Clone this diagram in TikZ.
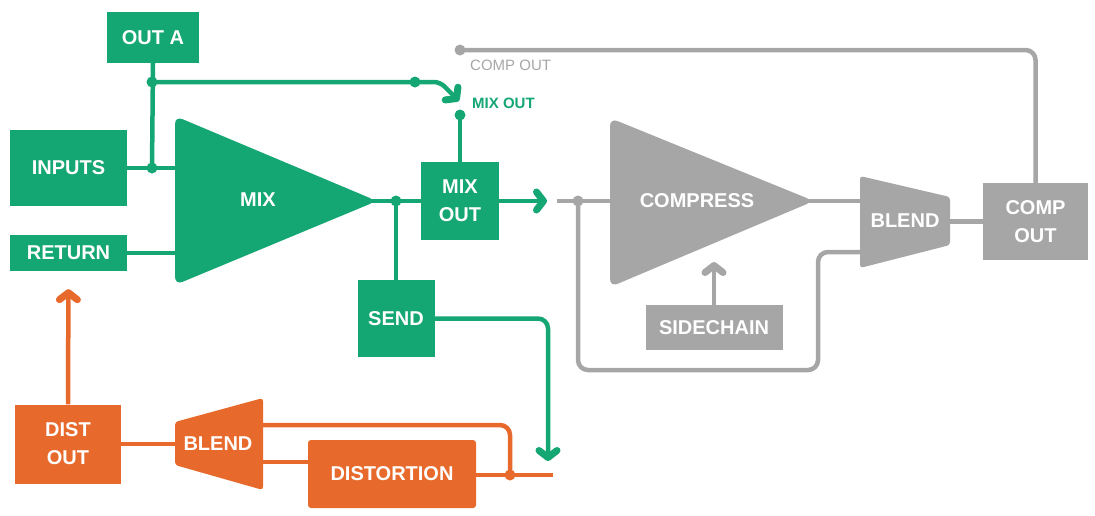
\documentclass[tikz,border=0pt]{standalone}
\usepackage{fontspec}
\setmainfont{Liberation Sans}
\usetikzlibrary{arrows.meta}
\definecolor{gr}{HTML}{14A673}
\definecolor{og}{HTML}{E8692C}
\definecolor{gy}{HTML}{A6A6A6}
\begin{document}
\begin{tikzpicture}[x=1pt,y=-1pt,
  box/.style={rectangle,inner sep=0pt,text=white,align=center,font=\fontsize{20}{28}\selectfont\bfseries},
  gbox/.style={box,fill=gr},
  obox/.style={box,fill=og},
  ybox/.style={box,fill=gy},
  lbl/.style={inner sep=0pt,text=white,align=center,font=\fontsize{20}{28}\selectfont\bfseries},
  wire/.style={line width=4.5pt},
  gw/.style={wire,draw=gr},
  ow/.style={wire,draw=og},
  yw/.style={wire,draw=gy},
  arr/.style={-{Straight Barb[length=7pt,width=18pt,line width=7pt,round]}},
  gdot/.style={circle,fill=gr,inner sep=0pt,minimum size=11pt},
  odot/.style={circle,fill=og,inner sep=0pt,minimum size=11pt},
  ydot/.style={circle,fill=gy,inner sep=0pt,minimum size=11pt},
  small/.style={inner sep=0pt,anchor=west,font=\fontsize{15}{18}\selectfont}
]
\useasboundingbox (0,0) rectangle (1095,515);

% ---------- green boxes ----------
\node[gbox,minimum width=92pt,minimum height=51pt] (outa) at (153,37.5) {OUT A};
\node[gbox,minimum width=117pt,minimum height=76pt] (inputs) at (68.5,168) {INPUTS};
\node[gbox,minimum width=117pt,minimum height=36pt] (return) at (68.5,253) {RETURN};
\node[gbox,minimum width=78pt,minimum height=78pt] (mixout) at (460,201) {MIX\\OUT};
\node[gbox,minimum width=77pt,minimum height=77pt] (send) at (396,318.5) {SEND};

% MIX triangle
\fill[gr,rounded corners=8pt] (175,116) -- (377,201) -- (175,285) -- cycle;
\node[lbl] (mix) at (258,200) {MIX};
\coordinate (mixin1) at (175,168);
\coordinate (mixin2) at (175,253);
\coordinate (mixtip) at (366,201);

% ---------- grey ----------
\node[ybox,minimum width=105pt,minimum height=77pt] (compout) at (1035.5,221.5) {COMP\\OUT};
\node[ybox,minimum width=137pt,minimum height=45pt] (sidechain) at (714,327.5) {SIDECHAIN};
\fill[gy,rounded corners=8pt] (610,118) -- (814,201) -- (610,287) -- cycle;
\node[lbl] (compress) at (697,201) {COMPRESS};
\coordinate (compin) at (610,201);
\coordinate (comptip) at (803,201);
\fill[gy,rounded corners=3pt] (860,176) -- (950,197) -- (950,245) -- (860,268) -- cycle;
\node[lbl] (yblend) at (905,221) {BLEND};
\coordinate (ybin1) at (860,201);
\coordinate (ybin2) at (860,252);
\coordinate (ybout) at (950,221.5);

% ---------- orange ----------
\node[obox,minimum width=106pt,minimum height=79pt] (distout) at (68,444) {DIST\\OUT};
\node[obox,rounded corners=3pt,minimum width=168pt,minimum height=68pt] (distortion) at (392,474) {DISTORTION};
\fill[og,rounded corners=3pt] (175,422) -- (263,398) -- (263,490) -- (175,465) -- cycle;
\node[lbl] (oblend) at (218,444) {BLEND};
\coordinate (obin) at (175,444);
\coordinate (obout1) at (263,425);
\coordinate (obout2) at (263,462);

% ---------- green connectors ----------
\coordinate (j1) at (152,168);
\coordinate (j2) at (152,82);
\coordinate (j3) at (415,82);
\coordinate (bend) at (440,82);
\coordinate (mtip) at (459,101);
\coordinate (j4) at (460,115);
\coordinate (j5) at (396,201);
\coordinate (mixarr) at (547,201);
\coordinate (sendc) at (548,318.5);
\coordinate (sendarr) at (548,461);

\draw[gw] (inputs.east) -- (mixin1);
\draw[gw] (return.east) -- (mixin2);
\draw[gw] (outa.south) -- (j1);
\draw[gw,arr,rounded corners=6pt] (j2) -- (j3) -- (bend) -- (mtip);
\draw[gw] (j4) -- (mixout.north);
\draw[gw] (mixtip) -- (mixout.west);
\draw[gw] (j5) -- (send.north);
\draw[gw,arr] (mixout.east) -- (mixarr);
\draw[gw,arr,rounded corners=10pt] (send.east) -- (sendc) -- (sendarr);
\node[gdot] (d1) at (j1) {};
\node[gdot] (d2) at (j2) {};
\node[gdot] (d3) at (j3) {};
\node[gdot] (d4) at (j4) {};
\node[gdot] (d5) at (j5) {};
\node[small,text=gr,font=\fontsize{15}{18}\selectfont\bfseries] (mixoutlbl) at (472,103) {MIX OUT};

% ---------- grey connectors ----------
\coordinate (g1) at (460,50);
\coordinate (gc1) at (1035.5,50);
\coordinate (gstart) at (557,201);
\coordinate (g2) at (578,201);
\coordinate (gl1) at (578,370);
\coordinate (gl2) at (818,370);
\coordinate (gl3) at (818,252);
\coordinate (scarr) at (714,262);
\draw[yw,rounded corners=10pt] (g1) -- (gc1) -- (compout.north);
\draw[yw] (gstart) -- (compin);
\draw[yw,rounded corners=10pt] (g2) -- (gl1) -- (gl2) -- (gl3) -- (ybin2);
\draw[yw] (comptip) -- (ybin1);
\draw[yw] (ybout) -- (compout.west);
\draw[yw,arr] (sidechain.north) -- (scarr);
\node[ydot] (d6) at (g1) {};
\node[ydot] (d7) at (g2) {};
\node[small,text=gy] (compoutlbl) at (470,65) {COMP OUT};

% ---------- orange connectors ----------
\coordinate (oc1) at (510,425);
\coordinate (o1) at (510,475);
\coordinate (oend) at (553,475);
\draw[ow,arr,shorten >=18pt] (distout.north) -- (return.south);
\draw[ow] (distout.east) -- (obin);
\draw[ow,rounded corners=10pt] (obout1) -- (oc1) -- (o1);
\draw[ow] (obout2) -- (obout2 -| distortion.west);
\draw[ow] (distortion.east |- oend) -- (oend);
\node[odot] (d8) at (o1) {};
\end{tikzpicture}
\end{document}
